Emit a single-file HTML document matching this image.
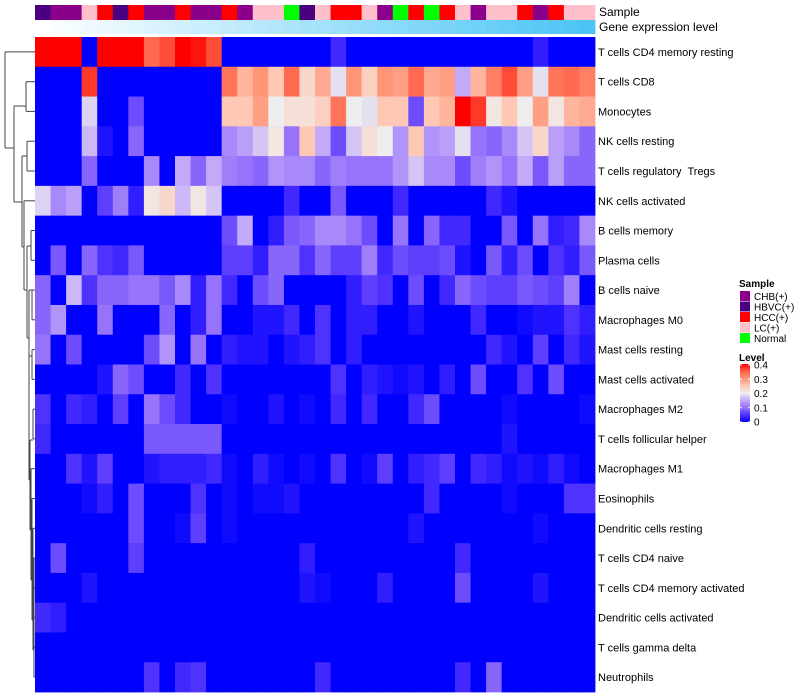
<!DOCTYPE html>
<html><head><meta charset="utf-8"><title>Immune cell heatmap</title>
<style>
html,body{margin:0;padding:0;background:#fff;}
svg{display:block;font-family:"Liberation Sans",sans-serif;}
#labels text{white-space:pre;}
</style></head>
<body>
<svg id="chart" width="800" height="700" viewBox="0 0 800 700" xmlns="http://www.w3.org/2000/svg">
<g id="dendro" stroke="#444" stroke-width="1" fill="none"></g>
<g id="annot"></g>
<g id="cells"></g>
<g id="labels" font-size="11" fill="#000"></g>
<text x="599" y="16" font-size="12">Sample</text>
<text x="599" y="31" font-size="12">Gene expression level</text>
<g id="legend" font-size="10"></g>
</svg>
<script>
const rowNames = ["T cells CD4 memory resting","T cells CD8","Monocytes","NK cells resting","T cells regulatory  Tregs","NK cells activated","B cells memory","Plasma cells","B cells naive","Macrophages M0","Mast cells resting","Mast cells activated","Macrophages M2","T cells follicular helper","Macrophages M1","Eosinophils","Dendritic cells resting","T cells CD4 naive","T cells CD4 memory activated","Dendritic cells activated","T cells gamma delta","Neutrophils"];
const groupNames = ["CHB(+)","HBVC(+)","HCC(+)","LC(+)","Normal"];
const groupColors = ["#8B008B","#4B0082","#FF0000","#FFC0CB","#00FF00"];
const sampleGroups = ["HBVC(+)","CHB(+)","CHB(+)","LC(+)","HCC(+)","HBVC(+)","HCC(+)","CHB(+)","CHB(+)","HCC(+)","CHB(+)","CHB(+)","HCC(+)","CHB(+)","LC(+)","LC(+)","Normal","HBVC(+)","LC(+)","HCC(+)","HCC(+)","LC(+)","CHB(+)","Normal","HCC(+)","Normal","HCC(+)","LC(+)","CHB(+)","LC(+)","LC(+)","HCC(+)","CHB(+)","HCC(+)","LC(+)","LC(+)"];
const geneLevel = [0,0.03,0.06,0.09,0.11,0.14,0.17,0.2,0.23,0.26,0.29,0.31,0.34,0.37,0.4,0.43,0.46,0.49,0.51,0.54,0.57,0.6,0.63,0.66,0.69,0.71,0.74,0.77,0.8,0.83,0.86,0.89,0.91,0.94,0.97,1];
const values = [
[0.4,0.4,0.4,0,0.4,0.4,0.4,0.34,0.36,0.4,0.39,0.36,0,0,0,0,0,0,0,0.04,0,0,0,0,0,0,0,0,0,0,0,0,0.03,0,0,0],
[0,0,0,0.37,0,0,0,0,0,0,0,0,0.33,0.27,0.3,0.25,0.34,0.23,0.28,0.19,0.3,0.24,0.3,0.29,0.34,0.28,0.29,0.15,0.27,0.32,0.36,0.29,0.19,0.33,0.34,0.32],
[0,0,0,0.18,0,0,0.07,0,0,0,0,0,0.25,0.25,0.29,0.2,0.22,0.22,0.24,0.33,0.2,0.19,0.25,0.25,0.07,0.25,0.27,0.4,0.37,0.21,0.25,0.2,0.29,0.21,0.27,0.28],
[0,0,0,0.16,0.02,0,0.09,0,0,0,0,0,0.12,0.14,0.17,0.21,0.1,0.25,0.15,0.07,0.17,0.22,0.2,0.13,0.25,0.13,0.14,0.19,0.1,0.09,0.12,0.17,0.23,0.14,0.12,0.09],
[0,0,0,0.09,0,0,0,0.12,0,0.15,0.09,0.15,0.11,0.1,0.09,0.13,0.12,0.12,0.09,0.11,0.1,0.1,0.1,0.13,0.17,0.12,0.12,0.07,0.11,0.13,0.1,0.15,0.08,0.14,0.09,0.09],
[0.18,0.12,0.14,0,0.06,0.11,0.03,0.21,0.23,0.16,0.21,0.17,0,0,0,0,0.04,0,0,0.08,0,0,0,0.04,0,0,0,0,0,0.04,0.02,0,0,0,0,0],
[0,0,0,0,0,0,0,0,0,0,0,0,0.07,0.15,0,0.03,0.08,0.09,0.12,0.12,0.1,0.07,0,0.1,0,0.09,0.04,0.04,0,0,0.08,0,0.1,0.03,0.04,0.12],
[0,0.08,0,0.09,0.05,0.04,0.08,0,0,0,0,0,0.06,0.06,0.03,0.09,0.09,0.05,0.09,0.06,0.06,0.11,0.04,0.07,0.06,0.06,0.07,0.02,0,0.08,0.03,0.07,0,0.05,0.03,0.08],
[0.09,0,0.16,0.05,0.09,0.09,0.1,0.1,0.08,0.12,0.03,0.1,0.04,0,0.07,0.09,0,0,0,0,0.03,0.06,0.05,0,0.07,0,0.04,0.09,0.07,0.06,0.06,0.08,0.07,0.06,0.11,0],
[0.09,0.13,0,0,0.1,0,0,0,0.09,0,0.03,0.1,0,0,0.02,0.02,0.04,0,0.05,0,0.03,0.03,0,0,0.02,0,0,0,0.04,0,0,0.01,0.02,0.02,0.05,0.03],
[0.1,0,0.07,0,0,0,0,0.07,0.13,0,0.1,0,0.03,0.02,0.02,0,0.02,0.03,0.05,0,0.03,0,0,0,0,0,0,0,0,0.04,0.02,0,0.06,0,0.04,0.02],
[0,0,0,0,0.02,0.09,0.07,0,0,0.04,0,0.05,0,0,0,0,0,0,0,0.05,0,0.03,0.02,0.01,0.02,0,0.03,0,0.07,0,0,0.05,0,0.07,0,0],
[0.05,0,0.04,0.03,0,0.06,0,0.1,0.07,0.04,0,0,0.01,0,0,0.02,0,0.01,0,0.04,0,0.04,0,0,0.04,0.07,0,0,0,0,0.01,0,0,0,0,0.01],
[0.04,0,0,0,0,0,0,0.08,0.08,0.08,0.08,0.08,0,0,0,0,0,0,0,0,0,0,0,0,0,0,0,0,0,0,0.02,0,0,0,0,0],
[0,0,0.05,0.02,0.06,0,0,0.02,0.03,0.03,0.03,0.04,0.01,0,0.03,0.01,0,0.01,0,0.05,0,0.01,0.06,0,0.03,0.04,0.06,0,0.04,0.03,0.01,0.02,0.01,0.03,0.01,0],
[0,0,0,0.01,0.03,0,0.07,0,0,0,0.05,0,0.01,0,0.01,0.01,0.02,0,0,0,0,0,0,0,0,0.04,0,0,0,0,0.01,0,0,0,0.05,0.05],
[0,0,0,0,0,0,0.07,0,0,0.01,0.06,0,0.01,0,0,0,0,0,0,0,0,0,0,0,0.02,0,0,0,0,0,0,0,0.01,0,0,0],
[0,0.07,0,0,0,0,0.06,0,0,0,0,0,0,0,0,0,0,0.03,0,0,0,0,0,0,0,0,0,0.04,0,0,0,0,0,0,0,0],
[0,0,0,0.02,0,0,0,0,0,0,0,0,0,0,0,0,0,0.02,0.01,0,0,0,0.03,0,0,0,0,0.07,0,0,0,0,0.02,0,0,0],
[0.04,0.03,0,0,0,0,0,0,0,0,0,0,0,0,0,0,0,0,0,0,0,0,0,0,0,0,0,0,0,0,0,0,0,0,0,0],
[0,0,0,0,0,0,0,0,0,0,0,0,0,0,0,0,0,0,0,0,0,0,0,0,0,0,0,0,0,0,0,0,0,0,0,0],
[0,0,0,0,0,0,0,0.05,0,0.04,0.05,0,0,0,0,0,0,0,0.04,0,0,0,0,0,0,0,0,0.04,0,0.09,0,0,0,0,0,0]
];
const legendTicks = [0,0.1,0.2,0.3,0.4];

const NS = "http://www.w3.org/2000/svg";
const X0 = 35, X1 = 595, Y0 = 37, Y1 = 692;
const nCol = sampleGroups.length, nRow = rowNames.length;
const cw = (X1 - X0) / nCol, rh = (Y1 - Y0) / nRow;
const xPos = c => X0 + c * cw;
const yPos = r => Y0 + r * rh;
const stops = [[0,[0,0,255]],[0.05,[80,50,255]],[0.1,[150,115,250]],[0.15,[195,170,248]],[0.2,[238,238,238]],[0.25,[255,200,180]],[0.3,[255,150,120]],[0.35,[255,95,70]],[0.4,[255,0,0]]];
function colorOf(v){
  v = Math.max(0, Math.min(0.4, v));
  for (let i = 1; i < stops.length; i++) {
    if (v <= stops[i][0]) {
      const a = stops[i-1], b = stops[i], t = (v - a[0]) / (b[0] - a[0]);
      const c = a[1].map((x, k) => Math.round(x + (b[1][k] - x) * t));
      return "rgb(" + c.join(",") + ")";
    }
  }
  return "rgb(255,0,0)";
}
function geneColor(t){
  const a=[255,255,255], b=[76,197,245];
  return "rgb(" + a.map((x,k)=>Math.round(x+(b[k]-x)*t)).join(",") + ")";
}
function mk(tag, attrs, parent){
  const e = document.createElementNS(NS, tag);
  for (const k in attrs) e.setAttribute(k, attrs[k]);
  parent.appendChild(e);
  return e;
}
const cells = document.getElementById("cells");
for (let r = 0; r < nRow; r++) {
  for (let c = 0; c < nCol; c++) {
    const el = mk("rect", {x: xPos(c).toFixed(2), y: yPos(r).toFixed(2), width: (cw + 0.4).toFixed(2), height: (rh + 0.4).toFixed(2), fill: colorOf(values[r][c])}, cells);
    
    
  }
}
const annot = document.getElementById("annot");
for (let c = 0; c < nCol; c++) {
  const s = mk("rect", {x: xPos(c).toFixed(2), y: 5, width: (cw + 0.4).toFixed(2), height: 15, fill: groupColors[groupNames.indexOf(sampleGroups[c])]}, annot);
  
  
  const g = mk("rect", {x: xPos(c).toFixed(2), y: 20, width: (cw + 0.4).toFixed(2), height: 14, fill: geneColor(geneLevel[c])}, annot);
  
  
}
const labels = document.getElementById("labels");
for (let r = 0; r < nRow; r++) {
  const t = mk("text", {x: 598, y: (yPos(r) + rh / 2 + 4).toFixed(1)}, labels);
  t.setAttributeNS("http://www.w3.org/XML/1998/namespace", "xml:space", "preserve");
  t.textContent = rowNames[r];
  
  
}
const dg = document.getElementById("dendro");
const cy = r => yPos(r) + rh / 2;
function seg(x1,y1,x2,y2){
  const l = mk("line", {x1, y1: y1.toFixed(1), x2, y2: y2.toFixed(1)}, dg);
  
  
}
function link(xp, ya, xa, yb, xb){ seg(xp,ya,xp,yb); seg(xp,ya,xa,ya); seg(xp,yb,xb,yb); }
const leafX = 35;
link(5, cy(0), leafX, 148, 14);
link(14, 106, 26, 202, 22);
link(26, cy(1), leafX, cy(2), leafX);
link(22, 156, 27, 247, 24);
link(27, cy(3), leafX, cy(4), leafX);
link(24, cy(5), leafX, 290, 27);
link(27, 246, 31, 338, 29);
link(31, cy(6), leafX, cy(7), leafX);
link(29, cy(8), 32, 420, 29);
link(32, cy(8), leafX, cy(9), leafX);
link(29, 356, 32, 480, 30);
link(32, cy(10), leafX, cy(11), leafX);
link(30, 440, 33, 530, 31);
link(33, cy(12), leafX, cy(13), leafX);
link(31, cy(14), leafX, 580, 32);
link(32, cy(15), leafX, 620, 33);
link(33, cy(16), leafX, 650, 34);
link(34, cy(17), leafX, cy(21), 34);
for (let r = 18; r <= 21; r++) seg(34, cy(r), leafX, cy(r));
const lg = document.getElementById("legend");
const st = mk("text", {x: 739, y: 287, "font-weight": "bold"}, lg); st.textContent = "Sample";
 
groupNames.forEach((n, i) => {
  const y = 291 + i * 10.5;
  const b = mk("rect", {x: 740, y, width: 10, height: 10, fill: groupColors[i]}, lg);
   
  const t = mk("text", {x: 754, y: y + 9}, lg); t.textContent = n;
   
});
const lt = mk("text", {x: 739, y: 361, "font-weight": "bold"}, lg); lt.textContent = "Level";
 
const defs = mk("defs", {}, lg);
const grad = mk("linearGradient", {id: "lvl", x1: 0, y1: 1, x2: 0, y2: 0}, defs);
stops.forEach(s => mk("stop", {offset: s[0] / 0.4, "stop-color": "rgb(" + s[1].join(",") + ")"}, grad));
const gb = mk("rect", {x: 740, y: 364, width: 10, height: 58, fill: "url(#lvl)"}, lg);
 
legendTicks.forEach(v => {
  const y = 422 - v / 0.4 * 57;
  mk("line", {x1: 740, x2: 742, y1: y, y2: y, stroke: "#fff"}, lg);
  mk("line", {x1: 748, x2: 750, y1: y, y2: y, stroke: "#fff"}, lg);
  const t = mk("text", {x: 754, y: y + 3.5}, lg); t.textContent = String(v);
   
});
</script>
</body></html>
